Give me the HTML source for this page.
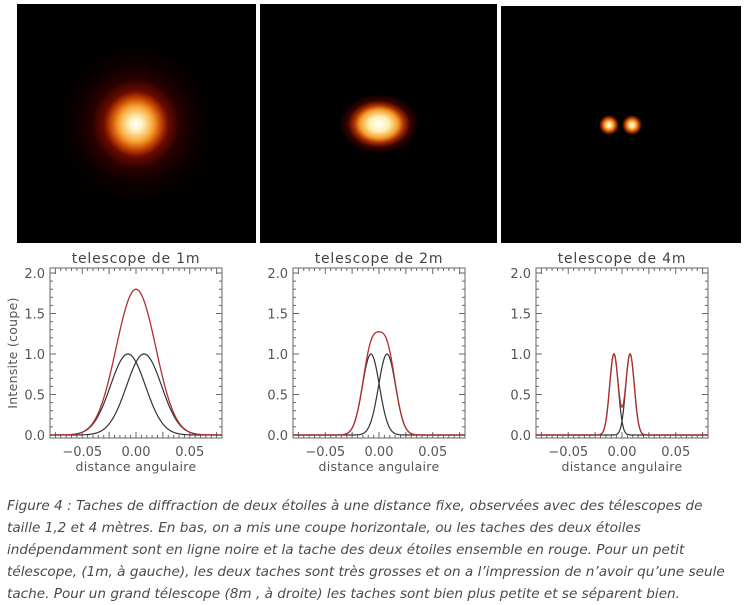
<!DOCTYPE html>
<html><head><meta charset="utf-8"><style>
body{margin:0;width:753px;height:602px;background:#fff;position:relative;overflow:hidden;font-family:"DejaVu Sans","Liberation Sans",sans-serif}
.p{position:absolute;background:#000}
.cap{position:absolute;left:7px;top:495px;font-size:13.6px;line-height:22px;color:#4a4a4a;font-style:italic;white-space:nowrap}
</style></head><body>
<div class="p" style="left:17px;top:4px;width:239px;height:239px;background:radial-gradient(ellipse 80px 82px at 119px 120px,#fff 0%,#fff4c0 8%,#f7a030 22%,#c04000 32%,#6a0c00 40%,#280000 55%,#0c0000 75%,#000 100%)"></div>
<div class="p" style="left:260px;top:4px;width:237px;height:239px;background:radial-gradient(ellipse 40px 30px at 119px 120px,#fff 0%,#fff0b0 25%,#f39a28 48%,#a83000 62%,#3a0300 78%,#000 100%)"></div>
<div class="p" style="left:501px;top:6px;width:240px;height:237px;background:radial-gradient(circle 10px at 108px 119px,#fff 0%,#ffe28a 25%,#f08a20 50%,#a02800 75%,rgba(0,0,0,0) 100%),radial-gradient(circle 10px at 131px 119px,#fff 0%,#ffe28a 25%,#f08a20 50%,#a02800 75%,rgba(0,0,0,0) 100%),#000"></div>
<svg id="s" width="753" height="490" style="position:absolute;left:0;top:0" font-family="DejaVu Sans, Liberation Sans, sans-serif"></svg>
<div class="cap">Figure 4 : Taches de diffraction de deux étoiles à une distance fixe, observées avec des télescopes de<br>taille 1,2 et 4 mètres. En bas, on a mis une coupe horizontale, ou les taches des deux étoiles<br>indépendamment sont en ligne noire et la tache des deux étoiles ensemble en rouge. Pour un petit<br>télescope, (1m, à gauche), les deux taches sont très grosses et on a l’impression de n’avoir qu’une seule<br>tache. Pour un grand télescope (8m , à droite) les taches sont bien plus petite et se séparent bien.</div>
<script>
var s=document.getElementById('s'),h='';
var P=[{x0:50,t:'telescope de 1m',sg:0.0163},{x0:293,t:'telescope de 2m',sg:0.0079},{x0:536,t:'telescope de 4m',sg:0.0040}];
var W=172,yT=268,yB=438,y0=435,ky=81,d=0.0075;
P.forEach(function(p){
 var cx=p.x0+W/2,kx=W/0.16;
 function X(v){return cx+v*kx}function Y(v){return y0-v*ky}
 h+='<rect x="'+p.x0+'" y="'+yT+'" width="'+W+'" height="'+(yB-yT)+'" fill="none" stroke="#666" stroke-width="1"/>';
 for(var i=0;i<=20;i++){var v=i*0.1,y=Y(v),L=(i%5==0)?6:3;
  h+='<line x1="'+p.x0+'" x2="'+(p.x0+L)+'" y1="'+y+'" y2="'+y+'" stroke="#666"/><line x1="'+(p.x0+W-L)+'" x2="'+(p.x0+W)+'" y1="'+y+'" y2="'+y+'" stroke="#666"/>';
  if(i%5==0)h+='<text x="'+(p.x0-5)+'" y="'+(y+5)+'" font-size="13" fill="#555" text-anchor="end">'+v.toFixed(1)+'</text>';}
 for(var j=-16;j<=16;j++){var v=j*0.005,x=X(v),L=(j%5==0)?6:3;
  h+='<line x1="'+x+'" x2="'+x+'" y1="'+yB+'" y2="'+(yB-L)+'" stroke="#666"/><line x1="'+x+'" x2="'+x+'" y1="'+yT+'" y2="'+(yT+L)+'" stroke="#666"/>';
  if(j%10==0)h+='<text x="'+x+'" y="'+(yB+18)+'" font-size="13" fill="#555" text-anchor="middle">'+(v==0?'0.00':(v<0?'\u22120.05':'0.05'))+'</text>';}
 h+='<text x="'+cx+'" y="263" font-size="14" fill="#444" text-anchor="middle" letter-spacing="0.8">'+p.t+'</text>';
 h+='<text x="'+cx+'" y="471" font-size="12.5" fill="#555" text-anchor="middle" letter-spacing="0.3">distance angulaire</text>';
 var a='',b='',c='';
 for(var k=0;k<=344;k++){var v=-0.08+k*0.16/344,g1=Math.exp(-(v+d)*(v+d)/(2*p.sg*p.sg)),g2=Math.exp(-(v-d)*(v-d)/(2*p.sg*p.sg));
  var x=X(v).toFixed(1);a+=(k?'L':'M')+x+','+Y(g1).toFixed(1);b+=(k?'L':'M')+x+','+Y(g2).toFixed(1);c+=(k?'L':'M')+x+','+Y(g1+g2).toFixed(1);}
 h+='<path d="'+a+'" fill="none" stroke="#333" stroke-width="1.2"/><path d="'+b+'" fill="none" stroke="#333" stroke-width="1.2"/><path d="'+c+'" fill="none" stroke="#b03030" stroke-width="1.3"/>';
});
h+='<text transform="translate(17,353) rotate(-90)" font-size="12.5" fill="#555" text-anchor="middle" letter-spacing="0.3">Intensite (coupe)</text>';
s.innerHTML=h;
</script>
</body></html>
